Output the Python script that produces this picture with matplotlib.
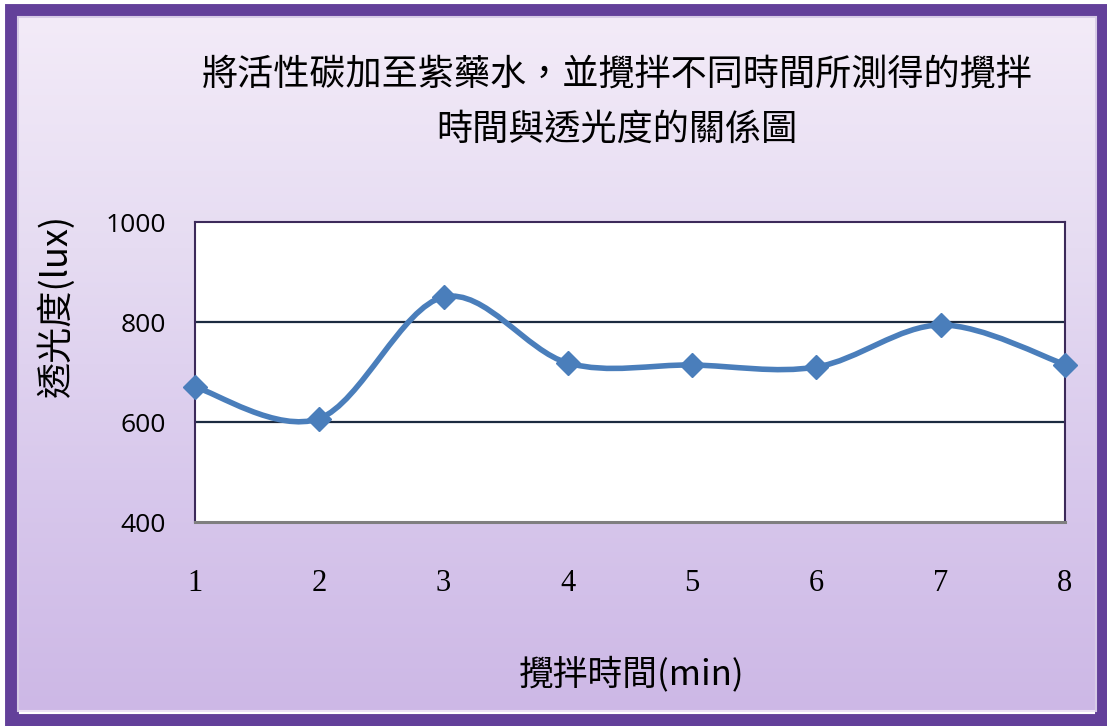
import numpy as np
import matplotlib
matplotlib.use("Agg")
from matplotlib import pyplot as plt
from matplotlib.path import Path
from matplotlib.patches import PathPatch, Rectangle
from matplotlib.colors import LinearSegmentedColormap

plt.rcParams['font.family'] = ['Noto Sans CJK TC', 'DejaVu Sans']

# 攪拌時間 (min) 與透光度 (lux)
minutes = [1, 2, 3, 4, 5, 6, 7, 8]
lux = [670, 607, 850, 718, 714, 710, 794, 715]
yticks = [400, 600, 800, 1000]

titleLine1 = "將活性碳加至紫藥水，並攪拌不同時間所測得的攪拌"
titleLine2 = "時間與透光度的關係圖"
xlabel = "攪拌時間(min)"
ylabel = "透光度(lux)"

lineColor = "#4a7ebb"


def smoothPath(xs, ys):
    # Bezier segments through every point, control points from neighbours (1/6 rule)
    pts = np.column_stack([xs, ys]).astype(float)
    n = len(pts)
    verts = [pts[0]]
    codes = [Path.MOVETO]
    for i in range(n - 1):
        p0 = pts[i - 1] if i > 0 else pts[i]
        p1 = pts[i]
        p2 = pts[i + 1]
        p3 = pts[i + 2] if i + 2 < n else pts[i + 1]
        c1 = p1 + (p2 - p0) / 6.0
        c2 = p2 - (p3 - p1) / 6.0
        verts += [c1, c2, p2]
        codes += [Path.CURVE4] * 3
    return Path(verts, codes)


fig = plt.figure(figsize=(11.07, 7.26), dpi=100)
fig.patch.set_facecolor("white")

# lavender gradient background with a purple frame
bg = fig.add_axes([0, 0, 1, 1], zorder=0)
bg.set_xlim(0, 1107)
bg.set_ylim(726, 0)
bg.axis("off")
cmap = LinearSegmentedColormap.from_list("bg", ["#f3ebf8", "#e6dcf2", "#d8c8ec", "#cdb8e6"])
grad = np.linspace(0, 1, 256).reshape(-1, 1)
bg.imshow(grad, cmap=cmap, extent=[17, 1097, 712, 16], aspect="auto")
bg.add_patch(Rectangle((12, 11), 1090, 710, fill=False, ec="#63409a", lw=10))
bg.add_patch(Rectangle((18, 17), 1078, 694, fill=False, ec="#f4eefa", lw=1.5, alpha=0.8))

ax = fig.add_axes([195 / 1107, 1 - 522 / 726, 870 / 1107, 300 / 726], zorder=2)
ax.set_facecolor("white")
ax.set_xlim(1, 8)
ax.set_ylim(400, 1000)
ax.set_yticks(yticks)
ax.set_xticks(minutes)
ax.set_xticklabels([str(m) for m in minutes], family="Liberation Serif", fontsize=22)
ax.set_yticklabels([str(v) for v in yticks], family="Open Sans", fontsize=19)
ax.tick_params(axis="y", length=0, pad=21)
ax.tick_params(axis="x", length=0, pad=34)

for v in [600, 800]:
    ax.axhline(v, color="#1c2b40", lw=1.6, zorder=1)

for side in ["left", "top", "right"]:
    ax.spines[side].set_color("#3c2a5a")
    ax.spines[side].set_linewidth(1.5)
ax.spines["bottom"].set_color("#7f7f7f")
ax.spines["bottom"].set_linewidth(2.2)

ax.add_patch(PathPatch(smoothPath(minutes, lux), fill=False, ec=lineColor,
                       lw=4, capstyle="round", joinstyle="round", zorder=3, clip_on=False))
ax.plot(minutes, lux, linestyle="none", marker="D", ms=12, color=lineColor,
        zorder=4, clip_on=False)

ax.set_xlabel(xlabel, fontsize=25)
ax.set_ylabel(ylabel, fontsize=26)
ax.xaxis.set_label_coords(437 / 870, -134 / 300)
ax.yaxis.set_label_coords(-120 / 870, (522 - 305) / 300)

fig.text(617 / 1107, 1 - 75 / 726, titleLine1, fontsize=26, ha="center", va="center")
fig.text(617 / 1107, 1 - 130 / 726, titleLine2, fontsize=26, ha="center", va="center")

plt.savefig("out.png", dpi=100)
